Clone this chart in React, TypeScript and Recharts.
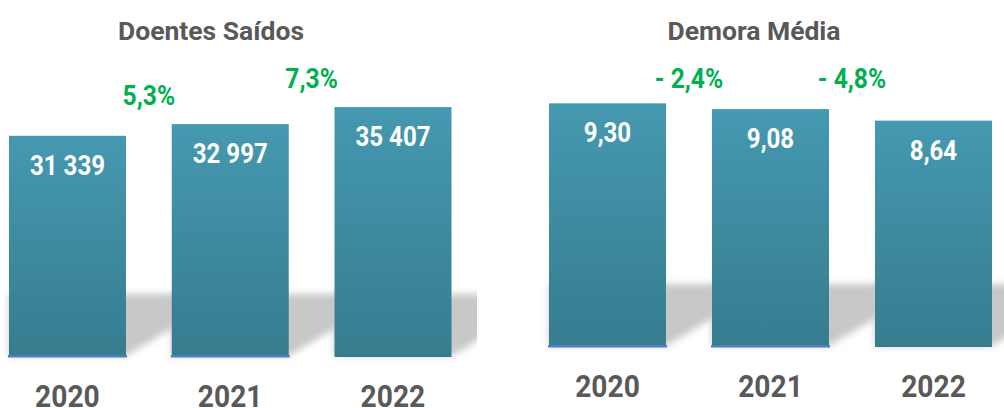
import React from 'react';
import { BarChart, Bar, XAxis, YAxis, LabelList } from 'recharts';

const years = ['2020', '2021', '2022'];
const doentesSaidos = [31339, 32997, 35407];
const demoraMedia = [9.3, 9.08, 8.64];
const doentesVariacao = ['', '5,3%', '7,3%'];
const demoraVariacao = ['', '- 2,4%', '- 4,8%'];
const titles = ['Doentes Saídos', 'Demora Média'];

const FONT = "Roboto, 'Liberation Sans', Arial, sans-serif";
const GREY = '#595959';
const GREEN = '#00B050';

const fmtInt = (v: number) => String(v).replace(/\B(?=(\d{3})+(?!\d))/g, ' ');
const fmtDec = (v: number) => v.toFixed(2).replace('.', ',');

function CondText({ x, y, size, fill, sx, children }: { x: number; y: number; size: number; fill: string; sx: number; children: any }) {
  return (
    <text
      transform={`translate(${x},${y}) scale(${sx},1)`}
      x={0}
      y={0}
      textAnchor="middle"
      fill={fill}
      fontSize={size}
      fontWeight="bold"
      fontFamily={FONT}
    >
      {children}
    </text>
  );
}

type PanelProps = {
  id: string;
  left: number;
  width: number;
  height: number;
  margin: { top: number; right: number; bottom: number; left: number };
  domain: [number, number];
  values: number[];
  changes: string[];
  fmt: (v: number) => string;
  changeY?: number;
};

const AXIS_H = 30;

function Panel({ id, left, width, height, margin, domain, values, changes, fmt, changeY }: PanelProps) {
  const data = years.map((year, i) => ({ year, value: values[i], change: changes[i] }));
  const plotW = width - margin.left - margin.right;
  const band = plotW / years.length;
  const yb = height - margin.bottom - AXIS_H;

  const shape = (p: any) => {
    const { x, y, width: w, height: h, index } = p;
    const b = y + h;
    return (
      <g>
        <defs>
          <filter id={`blur-${id}-${index}`} x="-30%" y="-60%" width="160%" height="220%">
            <feGaussianBlur stdDeviation="3.5" />
          </filter>
          <linearGradient id={`grad-${id}-${index}`} x1="0" y1="0" x2="0" y2="1">
            <stop offset="0" stopColor="#4599b0" />
            <stop offset="1" stopColor="#367c8f" />
          </linearGradient>
        </defs>
        <polygon
          points={`${x},${b - 63} ${x + w + 52},${b - 63} ${x + w + 52},${b - 32} ${x + w},${b - 1} ${x},${b - 1}`}
          fill="#c8c8c8"
          filter={`url(#blur-${id}-${index})`}
        />
        <rect x={x} y={y} width={w} height={h} fill={`url(#grad-${id}-${index})`} />
        {index < 2 && <rect x={x - 1} y={b - 2} width={w + 2} height={2.5} fill="#4f7fbf" />}
      </g>
    );
  };

  const valueLabel = (p: any) => (
    <CondText x={p.x + p.width / 2} y={p.y + 39} size={28} fill="#ffffff" sx={0.86}>
      {fmt(Number(p.value))}
    </CondText>
  );

  const changeLabel = (p: any) => {
    if (!p.value) return null;
    return (
      <CondText
        x={p.x + p.width / 2 - band / 2}
        y={changeY !== undefined ? changeY : p.y - 19}
        size={28}
        fill={GREEN}
        sx={0.88}
      >
        {p.value}
      </CondText>
    );
  };

  const tick = (p: any) => (
    <CondText x={p.x} y={yb + 50} size={32} fill={GREY} sx={0.88}>
      {p.payload.value}
    </CondText>
  );

  return (
    <div style={{ position: 'absolute', left, top: 0, width, height }}>
      <BarChart width={width} height={height} data={data} margin={margin} barSize={117}>
        <YAxis hide domain={domain} />
        <XAxis dataKey="year" axisLine={false} tickLine={false} height={AXIS_H} tick={tick} interval={0} />
        <Bar dataKey="value" shape={shape} isAnimationActive={false}>
          <LabelList dataKey="value" content={valueLabel} />
          <LabelList dataKey="change" content={changeLabel} />
        </Bar>
      </BarChart>
    </div>
  );
}

export default function App() {
  return (
    <div
      style={{
        position: 'fixed',
        left: 0,
        top: 0,
        width: 1004,
        height: 408,
        overflow: 'hidden',
        background: '#ffffff',
      }}
    >
      <Panel
        id="ds"
        left={-14}
        width={491}
        height={408}
        margin={{ top: 4.1, right: 2.75, bottom: 51 - AXIS_H, left: 0 }}
        domain={[0, 50000]}
        values={doentesSaidos}
        changes={doentesVariacao}
        fmt={fmtInt}
      />
      <Panel
        id="dm"
        left={525.5}
        width={489}
        height={408}
        margin={{ top: 6.4, right: 0, bottom: 61 - AXIS_H, left: 0 }}
        domain={[0, 13]}
        values={demoraMedia}
        changes={demoraVariacao}
        fmt={fmtDec}
        changeY={88}
      />
      <svg width={1004} height={408} style={{ position: 'absolute', left: 0, top: 0, pointerEvents: 'none' }}>
        <text x={211} y={39.5} textAnchor="middle" fill={GREY} fontSize={26.5} fontWeight="bold" fontFamily={FONT}>
          {titles[0]}
        </text>
        <text x={754} y={39.5} textAnchor="middle" fill={GREY} fontSize={26.5} fontWeight="bold" fontFamily={FONT}>
          {titles[1]}
        </text>
      </svg>
    </div>
  );
}
